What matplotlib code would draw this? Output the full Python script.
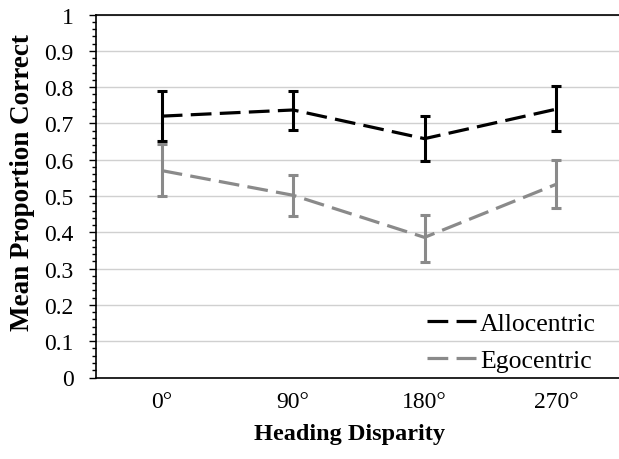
import numpy as np
import matplotlib
matplotlib.use("Agg")
import matplotlib.pyplot as plt
from matplotlib.ticker import MultipleLocator

plt.rcParams['font.family'] = ['Liberation Serif', 'DejaVu Serif']

# data
categories = ['0°', '90°', '180°', '270°']
allo_mean = [0.720, 0.737, 0.658, 0.739]
allo_low = [0.651, 0.682, 0.596, 0.679]
allo_high = [0.788, 0.788, 0.720, 0.803]
ego_mean = [0.570, 0.502, 0.386, 0.532]
ego_low = [0.500, 0.446, 0.318, 0.468]
ego_high = [0.643, 0.559, 0.448, 0.600]

fig = plt.figure(figsize=(6.19, 4.6), dpi=100)
ax = fig.add_axes([96 / 619, 1 - 378.5 / 460, 1 - 96 / 619, (378.5 - 15.5) / 460])

x = np.arange(len(categories))

def draw(mean, low, high, color, label):
    mean = np.array(mean)
    err = [mean - np.array(low), np.array(high) - mean]
    ax.errorbar(x, mean, yerr=err, fmt='none', ecolor=color, elinewidth=2.2,
                capsize=3.5, capthick=2.2, zorder=3)
    ax.plot(x, mean, color=color, lw=2.3, dashes=(6.5, 2.6), label=label, zorder=4)

draw(allo_mean, allo_low, allo_high, 'black', 'Allocentric')
draw(ego_mean, ego_low, ego_high, '#8a8a8a', 'Egocentric')

ax.set_xlim(-0.5, 3.48)
ax.set_ylim(0, 1)
ax.set_xticks(x)
ax.set_xticklabels(categories, fontsize=17)
ax.yaxis.set_minor_locator(MultipleLocator(0.02))
ax.set_yticks(np.arange(0, 1.01, 0.1))
ax.set_yticklabels(['0'] + ['%.1f' % v for v in np.arange(0.1, 0.95, 0.1)] + ['1'], fontsize=17)
ax.tick_params(axis='x', length=0, pad=10)
ax.tick_params(axis='y', which='major', direction='out', length=5, width=1, pad=11)
ax.tick_params(axis='y', which='minor', direction='out', length=3, width=1)
ax.grid(axis='y', which='major', color='#d0d0d0', lw=1)
ax.set_axisbelow(True)
ax.spines['right'].set_visible(False)
for s in ['left', 'top', 'bottom']:
    ax.spines[s].set_linewidth(1.2)

ax.set_ylabel('Mean Proportion Correct', fontsize=19.5, fontweight='bold')
ax.yaxis.set_label_coords((35 - 96) / 523, (378.5 - 183) / 363)
ax.set_xlabel('Heading Disparity', fontsize=17.5, fontweight='bold')
ax.xaxis.set_label_coords((350 - 96) / 523, -(424 - 378.5) / 363)

ax.legend(loc='lower right', bbox_to_anchor=(0.99, -0.035), frameon=False, fontsize=18.5,
          handlelength=1.9, handletextpad=0.15, labelspacing=0.55, borderaxespad=0.3)

fig.savefig('out.png', dpi=100)
